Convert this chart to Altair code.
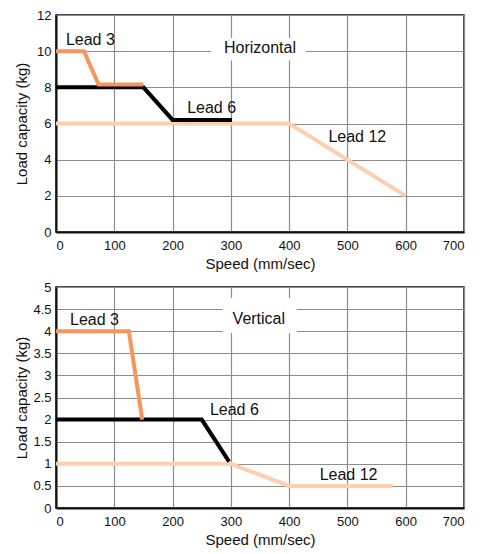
import altair as alt
import pandas as pd

# ---------------- data ----------------
x_ticks = [0, 100, 200, 300, 400, 500, 600, 700]

# Horizontal panel
h_y_ticks = [0, 2, 4, 6, 8, 10, 12]
h_lead3_x = [0, 48, 73, 150]
h_lead3_y = [10, 10, 8.15, 8.15]
h_lead6_x = [0, 150, 200, 302]
h_lead6_y = [8, 8, 6.2, 6.2]
h_lead12_x = [0, 400, 600]
h_lead12_y = [6, 6, 2]
h_label_text = ["Lead 3", "Lead 6", "Lead 12", "Horizontal"]
h_label_x = [59, 267, 517, 350]
h_label_y = [10.64, 6.86, 5.25, 10.2]
h_box = {"x": 266, "x2": 429, "y": 9.49, "y2": 10.73}

# Vertical panel
v_y_ticks = [0, 0.5, 1, 1.5, 2, 2.5, 3, 3.5, 4, 4.5, 5]
v_lead3_x = [0, 125, 148]
v_lead3_y = [4, 4, 2]
v_lead6_x = [0, 250, 297]
v_lead6_y = [2, 2, 1.05]
v_lead12_x = [0, 300, 400, 578]
v_lead12_y = [1, 1, 0.5, 0.5]
v_label_text = ["Lead 3", "Lead 6", "Lead 12", "Vertical"]
v_label_x = [66, 306, 502, 348]
v_label_y = [4.26, 2.21, 0.755, 4.27]
v_box = {"x": 286, "x2": 413, "y": 3.96, "y2": 4.75}

colors = {"Lead 3": "#f7965a", "Lead 6": "#000000", "Lead 12": "#fdcfb0"}
FONT = "Liberation Sans"


def panel(series, lab_text, lab_x, lab_y, box, y_ticks, y_max, h):
    xenc = alt.X("x:Q", scale=alt.Scale(domain=[0, 700], nice=False),
                 axis=alt.Axis(values=x_ticks, title="Speed (mm/sec)"))
    yenc = alt.Y("y:Q", scale=alt.Scale(domain=[0, y_max], nice=False),
                 axis=alt.Axis(values=y_ticks, title="Load capacity (kg)", format="~g"))
    layers = []
    box_df = pd.DataFrame([box])
    layers.append(
        alt.Chart(box_df).mark_rect(color="white").encode(
            x=xenc, x2="x2:Q", y=yenc, y2="y2:Q"
        )
    )
    for name, xs, ys in series:
        df = pd.DataFrame({"x": xs, "y": ys, "o": list(range(len(xs)))})
        layers.append(
            alt.Chart(df).mark_line(color=colors[name], strokeWidth=4, strokeJoin="miter").encode(
                x=xenc, y=yenc, order="o:Q"
            )
        )
    ldf = pd.DataFrame({"x": lab_x, "y": lab_y, "t": lab_text})
    layers.append(
        alt.Chart(ldf).mark_text(font=FONT, fontSize=16, color="#111", align="center",
                                 baseline="middle").encode(x=xenc, y=yenc, text="t:N")
    )
    return alt.layer(*layers).properties(width=408, height=h)


top = panel(
    [("Lead 12", h_lead12_x, h_lead12_y), ("Lead 6", h_lead6_x, h_lead6_y),
     ("Lead 3", h_lead3_x, h_lead3_y)],
    h_label_text, h_label_x, h_label_y, h_box, h_y_ticks, 12, 217,
)
bottom = panel(
    [("Lead 12", v_lead12_x, v_lead12_y), ("Lead 6", v_lead6_x, v_lead6_y),
     ("Lead 3", v_lead3_x, v_lead3_y)],
    v_label_text, v_label_x, v_label_y, v_box, v_y_ticks, 5, 221,
)

chart = alt.vconcat(top, bottom, spacing=8).properties(
    padding={"left": 5, "top": 0, "right": 5, "bottom": 0},
    background="white",
).configure_view(
    stroke="#111", strokeWidth=1.5
).configure_axis(
    labelFont=FONT, titleFont=FONT, labelFontSize=13, titleFontSize=15,
    labelColor="#111", titleColor="#111", titleFontWeight="normal",
    gridColor="#8c8c8c", gridWidth=1.2, gridOpacity=1,
    domainColor="#111", domainWidth=2, tickSize=0, labelPadding=6,
).configure_axisY(
    minExtent=25, maxExtent=25, titlePadding=2, labelPadding=5,
).configure_axisX(
    labelPadding=7, titlePadding=4,
)

chart.save("out.html", embed_options={"renderer": "svg", "actions": False})
